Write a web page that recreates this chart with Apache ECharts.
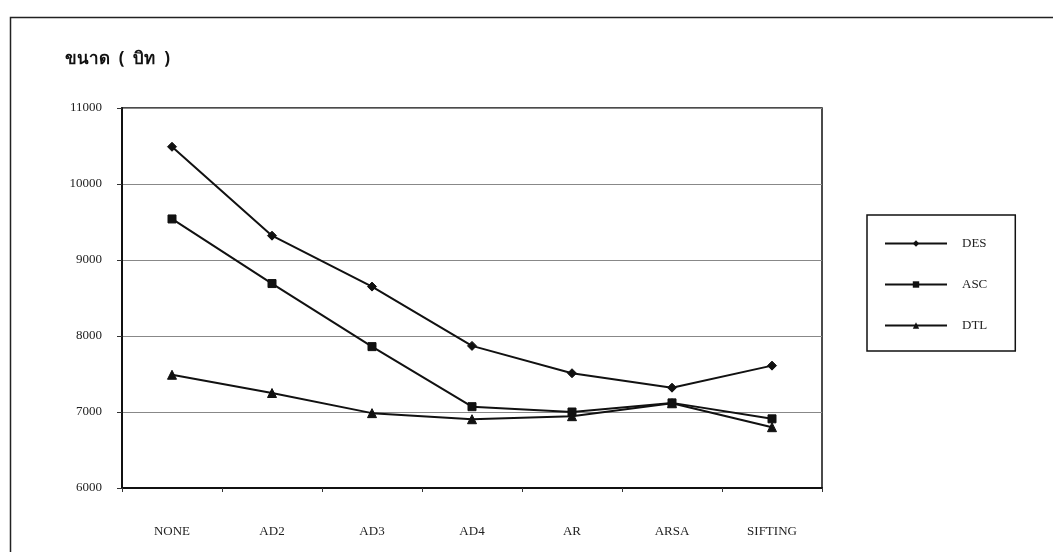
<!DOCTYPE html>
<html>
<head>
<meta charset="utf-8">
<script src="https://cdn.jsdelivr.net/npm/echarts@6/dist/echarts.min.js"></script>
<style>html,body{margin:0;padding:0;background:#fff;}#c{width:1053px;height:552px;}</style>
</head>
<body>
<div id="c"></div>
<script>
const categories = ['NONE', 'AD2', 'AD3', 'AD4', 'AR', 'ARSA', 'SIFTING'];
const desValues = [10490, 9320, 8650, 7870, 7510, 7320, 7610];
const ascValues = [9540, 8690, 7860, 7070, 7000, 7120, 6910];
const dtlValues = [7490, 7250, 6985, 6905, 6945, 7115, 6800];
const yTicks = { min: 6000, max: 11000, interval: 1000 };
const titleText = 'ขนาด  (  บิท  )';

const serif = '"Liberation Serif", "DejaVu Serif", serif';
const chart = echarts.init(document.getElementById('c'), null, { renderer: 'canvas' });

function lineSeries(name, data, symbol, size) {
  return {
    name: name, type: 'line', data: data,
    symbol: symbol, symbolSize: size, showSymbol: true,
    lineStyle: { color: '#111', width: 2 },
    itemStyle: { color: '#111', borderColor: '#111' },
    emphasis: { disabled: true },
    animation: false
  };
}

chart.setOption({
  backgroundColor: '#fff',
  animation: false,
  title: {
    text: titleText, left: 60, top: 46,
    textStyle: { fontFamily: '"Noto Sans", "DejaVu Sans", sans-serif', fontSize: 17, fontWeight: 'bold', color: '#111' }
  },
  graphic: [{
    type: 'rect', left: 8, top: 15, silent: true,
    shape: { width: 1100, height: 600 },
    style: { fill: 'none', stroke: '#222', lineWidth: 1.5 }
  }],
  legend: {
    orient: 'vertical', left: 867, top: 215,
    padding: [22, 28, 19, 17], itemGap: 28,
    itemWidth: 62, itemHeight: 8,
    borderColor: '#111', borderWidth: 1.5,
    textStyle: { fontFamily: serif, fontSize: 13, color: '#222', padding: [0, 0, 0, 10] },
    data: ['DES', 'ASC', 'DTL']
  },
  grid: {
    left: 122, right: 231, top: 108, bottom: 64,
    show: true, borderColor: '#111', borderWidth: 1.5, containLabel: false
  },
  xAxis: {
    type: 'category', data: categories, boundaryGap: true,
    axisLine: { lineStyle: { color: '#111', width: 2 } },
    axisTick: { show: true, length: 4, lineStyle: { color: '#333' } },
    axisLabel: { margin: 37, fontFamily: serif, fontSize: 13, color: '#222' },
    splitLine: { show: false }
  },
  yAxis: {
    type: 'value', min: yTicks.min, max: yTicks.max, interval: yTicks.interval,
    axisLine: { show: true, lineStyle: { color: '#111', width: 2 } },
    axisTick: { show: true, length: 5, lineStyle: { color: '#333' } },
    axisLabel: { margin: 20, fontFamily: serif, fontSize: 13, color: '#222', formatter: function (v) { return String(v); } },
    splitLine: { show: true, lineStyle: { color: '#888', width: 1 } }
  },
  series: [
    lineSeries('DES', desValues, 'diamond', 9),
    lineSeries('ASC', ascValues, 'rect', 8),
    lineSeries('DTL', dtlValues, 'triangle', 9)
  ]
});
</script>
</body>
</html>
